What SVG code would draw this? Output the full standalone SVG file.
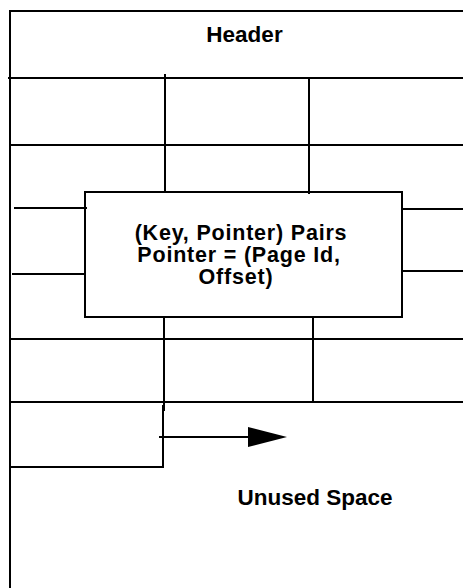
<svg xmlns="http://www.w3.org/2000/svg" width="463" height="588" viewBox="0 0 463 588">
<style>
.ln{stroke:#000;stroke-width:2;fill:none}
.t{font-family:"Liberation Sans",Arial,sans-serif;font-weight:bold;font-size:22.5px;fill:#000;text-anchor:middle}
.tb{font-size:21.5px;letter-spacing:0.8px}
</style>
<rect width="463" height="588" fill="#fff"/>
<g id="page-frame">
<path class="ln" d="M10,588 V11 H463"/>
</g>
<g id="header">
<text class="t" x="244.5" y="42">Header</text>
</g>
<g id="grid">
<path class="ln" d="M8,78 H463 M10,145 H463 M165,74 V193 M309,78 V194"/>
<path class="ln" d="M14,208 H87 M12,274 H85 M403,209 H463 M403,271 H463"/>
<path class="ln" d="M164,317 V411 M313,317 V401 M10,339 H463 M10,402 H463"/>
<path class="ln" d="M163,405 V467 H10"/>
</g>
<g id="pairs-box">
<rect class="ln" x="85" y="192" width="317" height="125" fill="#fff"/>
<text class="t tb"><tspan x="241" y="239.5">(Key, Pointer) Pairs</tspan><tspan x="239" y="261.5">Pointer = (Page Id,</tspan><tspan x="236" y="284">Offset)</tspan></text>
</g>
<g id="connectors">
<path class="ln" d="M159,437 H250"/>
<polygon points="248,427 287,437 248,447" fill="#000"/>
</g>
<g id="unused">
<text class="t" x="315" y="505">Unused Space</text>
</g>
</svg>
